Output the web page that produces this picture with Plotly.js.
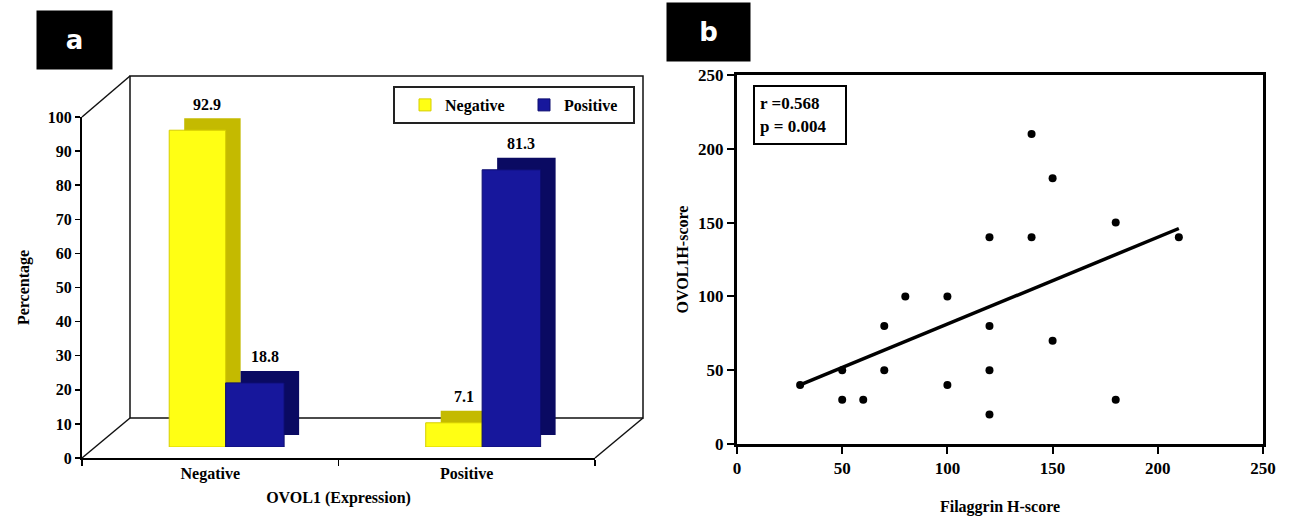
<!DOCTYPE html>
<html><head><meta charset="utf-8">
<script src="https://cdn.plot.ly/plotly-3.0.1.min.js"></script>
<style>html,body{margin:0;padding:0;background:#fff}#chart{width:1290px;height:517px}</style>
</head><body><div id="chart"></div>
<script>
// ---- data ----
const categories = ['Negative', 'Positive'];
const seriesNames = ['Negative', 'Positive'];
const negativeValues = [92.9, 7.1];
const positiveValues = [18.8, 81.3];
const percentTicks = [0, 10, 20, 30, 40, 50, 60, 70, 80, 90, 100];
const filaggrinScore = [30, 50, 50, 60, 70, 70, 80, 100, 100, 120, 120, 120, 120, 140, 140, 150, 150, 180, 180, 210];
const ovol1Score     = [40, 50, 30, 30, 80, 50, 100, 100, 40, 140, 80, 50, 20, 210, 140, 180, 70, 150, 30, 140];
const fitX = [30, 210];
const fitY = [40, 146];
const scoreTicks = [0, 50, 100, 150, 200, 250];
const statsLines = ['r =0.568', 'p = 0.004'];
const panelLabels = ['a', 'b'];

// ---- helpers (pixel -> paper) ----
const W = 1290, H = 517;
const px = x => x / W;
const py = y => 1 - y / H;

const serif = 'Liberation Serif, Times New Roman, serif';
const fontB = (s, c) => ({family: serif, size: s, color: c || '#000', weight: 'bold'});

const yellowStyle = {offset: -0.16, width: 0.22, front: '#FFFF14', edge: '#D6CE00', depth: '#C4BA00', labelShift: 10};
const blueStyle   = {offset: 0.06,  width: 0.228, front: '#17179C', edge: '#0E0E70', depth: '#0A0A62', labelShift: 10};

const traces = [
  // depth (top/side faces) copies
  {type: 'bar', x: categories, y: negativeValues, xaxis: 'x', yaxis: 'y', offset: yellowStyle.offset, width: yellowStyle.width,
   marker: {color: yellowStyle.depth}, showlegend: false, hoverinfo: 'skip'},
  {type: 'bar', x: categories, y: positiveValues, xaxis: 'x', yaxis: 'y', offset: blueStyle.offset, width: blueStyle.width,
   marker: {color: blueStyle.depth}, showlegend: false, hoverinfo: 'skip'},
  // front faces
  {type: 'bar', name: seriesNames[0], x: categories, y: negativeValues, xaxis: 'x2', yaxis: 'y2', offset: yellowStyle.offset, width: yellowStyle.width,
   marker: {color: yellowStyle.front, line: {color: yellowStyle.edge, width: 1}}},
  {type: 'bar', name: seriesNames[1], x: categories, y: positiveValues, xaxis: 'x2', yaxis: 'y2', offset: blueStyle.offset, width: blueStyle.width,
   marker: {color: blueStyle.front, line: {color: blueStyle.edge, width: 1}}},
  // transparent carrier for the visible front axes of panel a
  {type: 'bar', x: categories, y: negativeValues, xaxis: 'x4', yaxis: 'y4', opacity: 0, showlegend: false, hoverinfo: 'skip'},
  // scatter
  {type: 'scatter', mode: 'markers', x: filaggrinScore, y: ovol1Score, xaxis: 'x3', yaxis: 'y3',
   marker: {color: '#000', size: 8}, showlegend: false, cliponaxis: false},
  {type: 'scatter', mode: 'lines', x: fitX, y: fitY, xaxis: 'x3', yaxis: 'y3',
   line: {color: '#000', width: 3.5}, showlegend: false}
];

const annotations = [];
// value labels
[[negativeValues, yellowStyle], [positiveValues, blueStyle]].forEach(([vals, st]) => {
  vals.forEach((v, i) => {
    annotations.push({xref: 'x2', yref: 'y2', x: i + st.offset + st.width / 2, y: v, text: v.toFixed(1),
      showarrow: false, xanchor: 'center', yanchor: 'middle', xshift: st.labelShift, yshift: 26, font: fontB(16)});
  });
});
// panel labels
annotations.push({xref: 'paper', yref: 'paper', x: px(74.5), y: py(40), xanchor: 'center', yanchor: 'middle',
  text: panelLabels[0], showarrow: false,
  bgcolor: '#000', width: 75, height: 58, borderpad: 0, font: {family: 'DejaVu Sans', size: 26, color: '#fff', weight: 'bold'}});
annotations.push({xref: 'paper', yref: 'paper', x: px(708.5), y: py(32), xanchor: 'center', yanchor: 'middle',
  text: panelLabels[1], showarrow: false,
  bgcolor: '#000', width: 83, height: 58, borderpad: 0, font: {family: 'DejaVu Sans', size: 26, color: '#fff', weight: 'bold'}});
// stats box
annotations.push({xref: 'paper', yref: 'paper', x: px(753), y: py(85), xanchor: 'left', yanchor: 'top',
  text: statsLines.join('<br>'), align: 'left', showarrow: false, bordercolor: '#000', borderwidth: 2, borderpad: 5,
  width: 80, height: 46, font: fontB(17)});

const frameLine = {color: '#111', width: 1.5};
const shapes = [
  {type: 'rect', xref: 'paper', yref: 'paper', x0: px(130), x1: px(643), y0: py(418), y1: py(76), line: frameLine, layer: 'below'},
  {type: 'line', xref: 'paper', yref: 'paper', x0: px(82), y0: py(117), x1: px(130), y1: py(76), line: frameLine, layer: 'below'},
  {type: 'line', xref: 'paper', yref: 'paper', x0: px(82), y0: py(458), x1: px(130), y1: py(418), line: frameLine, layer: 'below'},
  {type: 'line', xref: 'paper', yref: 'paper', x0: px(595), y0: py(458), x1: px(643), y1: py(418), line: frameLine, layer: 'below'}
];

const hidden = {visible: false, showgrid: false, zeroline: false, fixedrange: true};

const layout = {
  width: W, height: H,
  margin: {l: 0, r: 0, t: 0, b: 0},
  paper_bgcolor: '#fff', plot_bgcolor: 'rgba(0,0,0,0)',
  barmode: 'overlay',
  showlegend: true,
  legend: {x: px(393), y: py(86), xanchor: 'left', yanchor: 'top', orientation: 'h',
    bordercolor: '#222', borderwidth: 2, bgcolor: '#fff', font: fontB(16),
    entrywidth: 64, entrywidthmode: 'pixels', itemwidth: 30, indentation: 10},
  xaxis: Object.assign({domain: [px(97), px(610)], type: 'category', categoryarray: categories, range: [-0.5, 1.5], anchor: 'y'}, hidden),
  yaxis: Object.assign({domain: [py(435), py(94)], range: [0, 100], anchor: 'x'}, hidden),
  xaxis2: Object.assign({domain: [px(82), px(595)], type: 'category', categoryarray: categories, range: [-0.5, 1.5], anchor: 'y2'}, hidden),
  yaxis2: Object.assign({domain: [py(447), py(106)], range: [0, 100], anchor: 'x2'}, hidden),
  xaxis4: {domain: [px(82), px(595)], anchor: 'y4', type: 'category', categoryarray: categories, range: [-0.5, 1.5],
    tickson: 'boundaries', ticks: 'outside', ticklen: 6, tickwidth: 1.5, tickcolor: '#000',
    showline: true, linewidth: 2, linecolor: '#000', showgrid: false, zeroline: false, fixedrange: true,
    tickfont: fontB(16), title: {text: 'OVOL1 (Expression)', font: fontB(16), standoff: 10}},
  yaxis4: {domain: [py(458), py(117)], anchor: 'x4', range: [0, 100], tickmode: 'array', tickvals: percentTicks,
    ticks: 'outside', ticklen: 5, tickwidth: 1.5, tickcolor: '#000',
    showline: true, linewidth: 2, linecolor: '#000', showgrid: false, zeroline: false, fixedrange: true,
    tickfont: fontB(16), title: {text: 'Percentage', font: fontB(16), standoff: 14}},
  xaxis3: {domain: [px(737), px(1263)], anchor: 'y3', range: [0, 250], tickmode: 'array', tickvals: scoreTicks,
    ticks: 'outside', ticklen: 7, tickwidth: 2, tickcolor: '#000',
    showline: true, mirror: true, linewidth: 3, linecolor: '#000', showgrid: false, zeroline: false, fixedrange: true,
    tickfont: fontB(17), title: {text: 'Filaggrin H-score', font: fontB(16), standoff: 24}},
  yaxis3: {domain: [py(444), py(75)], anchor: 'x3', range: [0, 250], tickmode: 'array', tickvals: scoreTicks,
    ticks: 'outside', ticklen: 7, tickwidth: 2, tickcolor: '#000',
    showline: true, mirror: true, linewidth: 3, linecolor: '#000', showgrid: false, zeroline: false, fixedrange: true,
    tickfont: fontB(17), title: {text: 'OVOL1H-score', font: fontB(16), standoff: 6}},
  annotations: annotations,
  shapes: shapes
};

Plotly.newPlot('chart', traces, layout, {displayModeBar: false, staticPlot: true});
</script>
</body></html>
